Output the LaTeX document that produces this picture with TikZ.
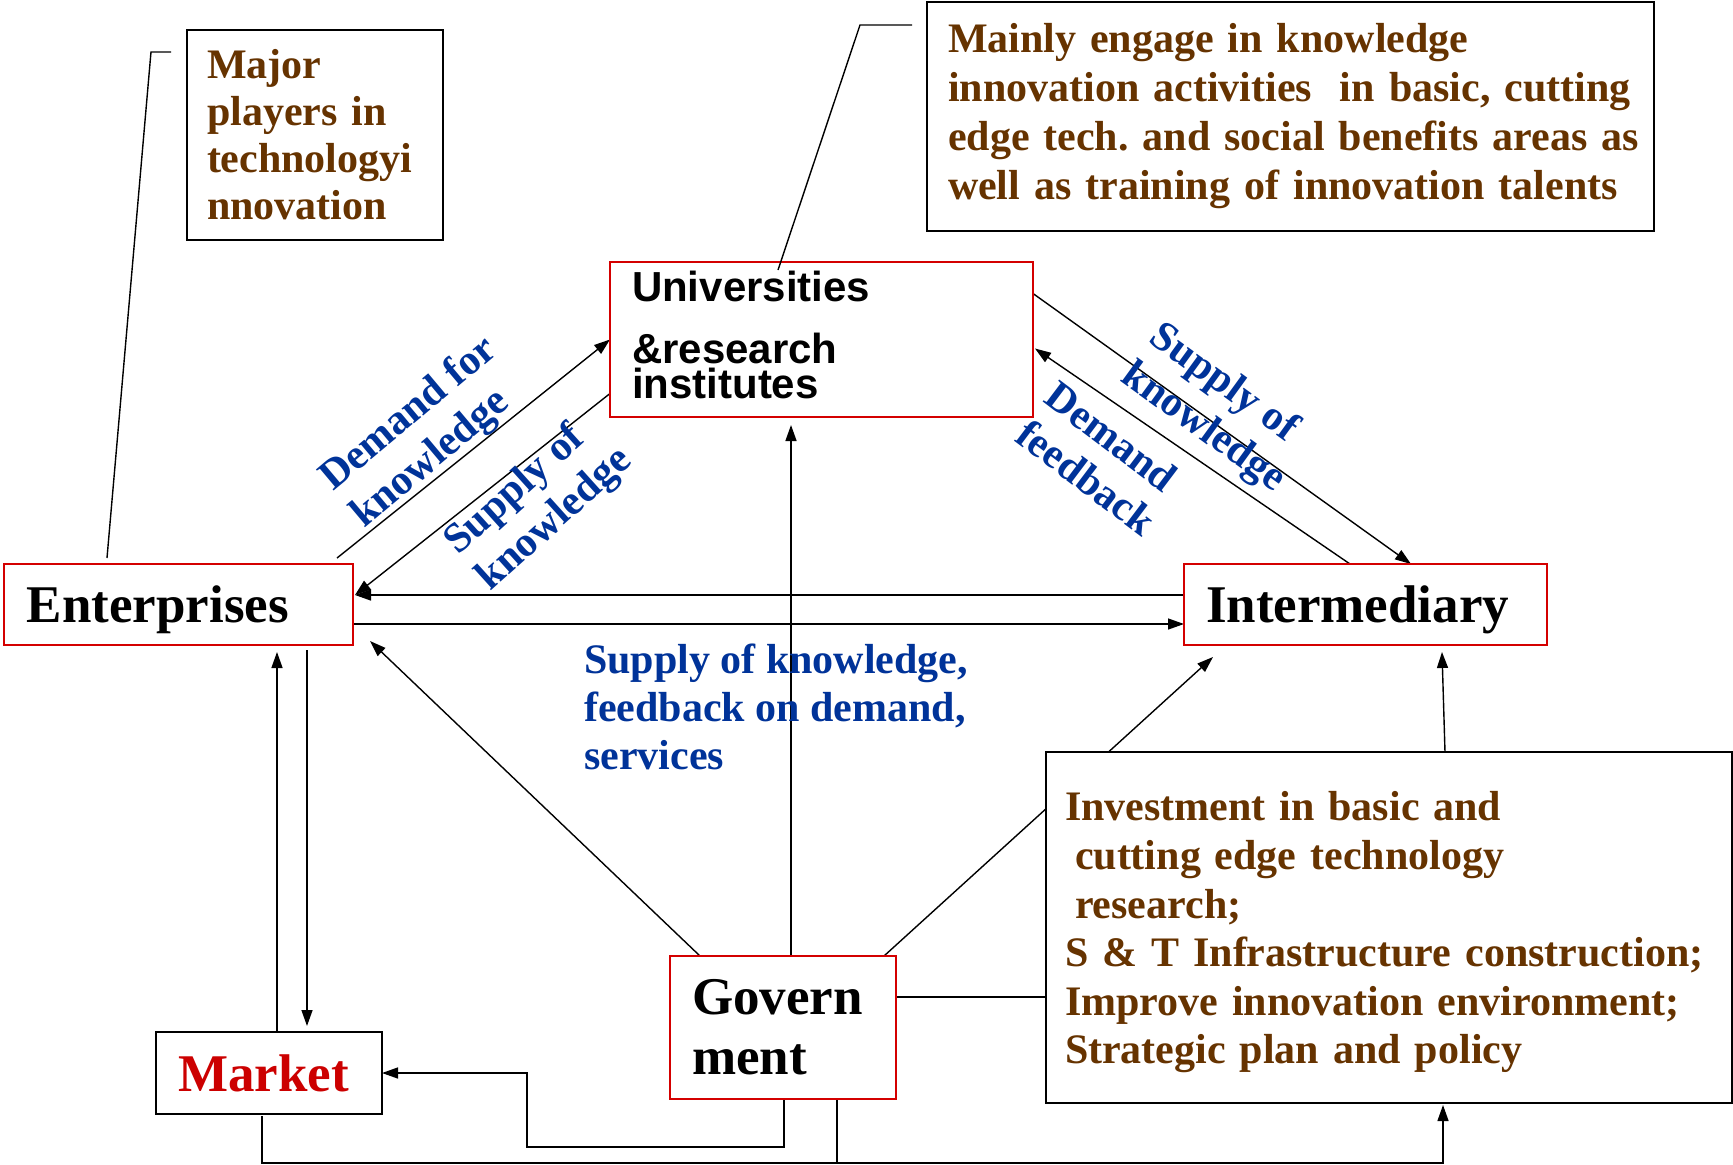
\documentclass[tikz,border=0pt]{standalone}
\usepackage{fontspec}
\setmainfont{Liberation Serif}
\newfontfamily\arialfam{Liberation Sans}
\usetikzlibrary{arrows.meta,calc,backgrounds}
\definecolor{txtbrown}{HTML}{663300}
\definecolor{txtblue}{HTML}{003399}
\definecolor{txtred}{HTML}{CC0000}
\definecolor{boxred}{HTML}{D40000}
\newcommand\fBig{\fontsize{53}{60}\selectfont\bfseries}
\newcommand\fMid{\fontsize{42}{47}\selectfont\bfseries}
\newcommand\fMidB{\fontsize{42}{49}\selectfont\bfseries}
\newcommand\fLbl{\fontsize{42}{48}\selectfont\bfseries}
\frenchspacing
\tikzset{
  box/.style={draw=black, line width=2pt, fill=white, inner ysep=0pt, outer sep=0pt, align=left},
  rbox/.style={box, draw=boxred},
  conn/.style={line width=1.4pt, draw=black},
  arr/.style={conn, -{Triangle[length=16pt,width=11pt]}},
  lbl/.style={text=txtblue, font=\fLbl, align=left, inner sep=0pt}
}
\begin{document}
\begin{tikzpicture}[x=1pt,y=-1pt]
\useasboundingbox (0,0) rectangle (1733,1165);

% boxes
\node[box, text=txtbrown, font=\fMid, minimum height=210pt, text width=216pt, inner xsep=20pt] (major) at (315,135)
  {Major\\players in\\technologyi\\nnovation};
\node[box, text=txtbrown, font=\fMidB, minimum height=229pt, text width=689pt, inner xsep=19pt] (mainly) at (1290.5,116.5)
  {\mbox{\hspace*{2pt}Mainly engage in knowledge}\\\mbox{\hspace*{2pt}innovation activities \ in basic, cutting}\\\mbox{\hspace*{2pt}edge tech. and social benefits areas as}\\\mbox{\hspace*{2pt}well as training of innovation talents}};
\node[rbox, font={\fontsize{42}{35}\selectfont\arialfam\bfseries}, minimum height=155pt, text width=379pt, inner xsep=22pt] (univ) at (821.5,339.5)
  {Universities\\[27pt]\&research\\institutes\rule[-10pt]{0pt}{10pt}};
\node[rbox, font=\fBig, minimum height=81pt, text width=303pt, inner xsep=23pt, text height=36pt, text depth=0pt] (ent) at (178.5,604.5) {Enterprises};
\node[rbox, font=\fBig, minimum height=81pt, text width=319pt, inner xsep=22pt, text height=36pt, text depth=0pt] (inter) at (1365.5,604.5) {Intermediary};
\node[box, text=txtred, font=\fBig, minimum height=82pt, text width=182pt, inner xsep=22pt] (mkt) at (269,1073) {Market};
\node[rbox, font=\fBig, minimum height=143pt, text width=182pt, inner xsep=22pt] (gov) at (783,1027.5) {Govern\\ment};
\node[box, text=txtbrown, font={\fontsize{42}{48.6}\selectfont\bfseries}, minimum height=351pt, text width=648pt, inner xsep=19pt] (invest) at (1389,927.5)
  {\rule{0pt}{39pt}Investment in basic and\\\hspace*{10pt}cutting edge technology\\\hspace*{10pt}research;\\S \& T Infrastructure construction;\\Improve innovation environment;\\Strategic plan and policy};

% labels
\node[lbl, rotate=40] (lab1) at (425,433) {Demand for\\knowledge};
\node[lbl, rotate=42] (lab2) at (539,502) {Supply of\\knowledge};
\node[lbl, rotate=-36] (lab3) at (1217,409) {Supply of\\knowledge};
\node[lbl, rotate=-37] (lab4) at (1101,458) {Demand\\feedback};
\node[lbl, anchor=west] (lab5) at (584,707) {Supply of knowledge,\\feedback on demand,\\services};

\begin{scope}[on background layer]
\fill[white] (0,0) rectangle (1733,1165);
\draw[arr] ($(ent.north east)+(-16,-6)$) -- (univ.west);
\draw[arr] ($(univ.west)+(0,54)$) -- ($(ent.east)+(2,-9.5)$);
\draw[arr] ($(univ.east)+(0,-46)$) -- ($(inter.north west)+(227,0)$);
\draw[arr] ($(inter.north west)+(166,0)$) -- ($(univ.east)+(2,9)$);
\draw[arr] ($(inter.west)+(0,-9.5)$) -- ($(ent.east)+(2,-9.5)$);
\draw[arr] ($(ent.east)+(0,19.5)$) -- ($(inter.west)+(0,19.5)$);
\draw[arr] ($(gov.north)+(8,0)$) -- ($(univ.south)+(-30.5,8)$);
\draw[arr] ($(gov.north west)+(30,0)$) -- ($(ent.south east)+(17,-4)$);
\draw[arr] ($(gov.north east)+(-12,0)$) -- ($(inter.south west)+(29,12)$);
\draw[arr] ($(invest.north west)+(399,0)$) -- ($(inter.south west)+(258,7)$);
\draw[conn] ($(gov.east)+(0,-30.5)$) -- ($(invest.west)+(0,69.5)$);
\draw[arr] ($(mkt.north west)+(121,0)$) -- ($(ent.south west)+(273,7)$);
\draw[arr] ($(ent.south west)+(303,5)$) -- ($(mkt.north west)+(151,-6)$);
\draw[arr] ($(gov.south west)+(114,0)$) -- ++(0,48) -| ($(mkt.east)+(145,0)$) -- (mkt.east);
\draw[arr] ($(mkt.south west)+(106,2)$) -- ++(0,47) -| ($(invest.south west)+(397,2)$);
\draw[conn] ($(gov.south west)+(167,0)$) -- ++(0,64);
\draw[conn] ($(major.north west)+(-16,22)$) -- ++(-20,0) -- ($(ent.north west)+(103,-6)$);
\end{scope}
\draw[conn] ($(mainly.north west)+(-15,23)$) -- ++(-52,0) -- ($(univ.north west)+(168,8)$);
\end{tikzpicture}
\end{document}
